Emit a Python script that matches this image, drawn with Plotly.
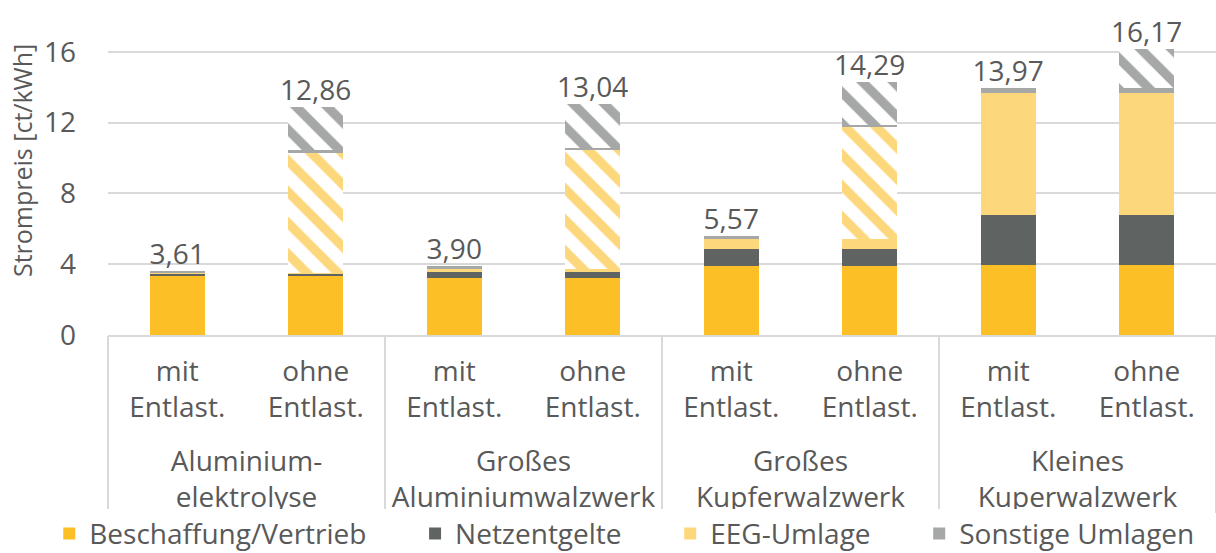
import plotly.graph_objects as go

groups = ["Aluminium-<br>elektrolyse", "Großes<br>Aluminiumwalzwerk",
          "Großes<br>Kupferwalzwerk", "Kleines<br>Kuperwalzwerk"]
variants = ["mit<br>Entlast.", "ohne<br>Entlast."]

beschaffung = [3.38, 3.38, 3.20, 3.20, 3.92, 3.92, 3.96, 3.96]
netzentgelte = [0.08, 0.08, 0.35, 0.35, 0.95, 0.95, 2.82, 2.82]
eeg = [0.05, 0.05, 0.20, 0.20, 0.57, 0.57, 6.88, 6.88]
eeg_ohne = [0, 6.83, 0, 6.68, 0, 6.31, 0, 0]
sonstige = [0.10, 0.10, 0.15, 0.15, 0.13, 0.13, 0.31, 0.31]
sonstige_ohne = [0, 2.42, 0, 2.46, 0, 2.41, 0, 2.20]
totals = [3.61, 12.86, 3.90, 13.04, 5.57, 14.29, 13.97, 16.17]

# unique category ids for the 8 bars; shown labels come from ticktext
bar_ids = [f"{gi}-{vi}" for gi in range(len(groups)) for vi in range(len(variants))]
bar_labels = [v for _ in groups for v in variants]

C_BESCH = "#FDBF26"
C_NETZ = "#5F6462"
C_EEG = "#FDD77C"
C_SONST = "#A6A8A7"
TXT = "#595959"
GRID = "#D9D9D9"
FONT = "Open Sans"
FS = 28
PAD = "\u00a0" * 6

fig = go.Figure()

def solid(name, vals, color, label):
    fig.add_trace(go.Bar(x=bar_ids, y=vals, name=label, legendgroup=name,
                         showlegend=True, marker=dict(color=color, line=dict(width=0))))

def hatched(name, vals, color):
    fig.add_trace(go.Bar(x=bar_ids, y=vals, name=name, legendgroup=name, showlegend=False,
                         marker=dict(color="white", line=dict(width=0),
                                     pattern=dict(shape="\\", fgcolor=color, bgcolor="white",
                                                  size=22, solidity=0.42, fillmode="replace"))))

solid("Beschaffung/Vertrieb", beschaffung, C_BESCH, "Beschaffung/Vertrieb" + PAD)
solid("Netzentgelte", netzentgelte, C_NETZ, "Netzentgelte" + PAD)
solid("EEG-Umlage", eeg, C_EEG, "EEG-Umlage" + PAD)
hatched("EEG-Umlage", eeg_ohne, C_EEG)
solid("Sonstige Umlagen", sonstige, C_SONST, "Sonstige Umlagen")
hatched("Sonstige Umlagen", sonstige_ohne, C_SONST)

fig.add_trace(go.Scatter(x=bar_ids, y=totals, mode="text",
                         text=[f"{t:.2f}".replace(".", ",") for t in totals],
                         textposition="top center", showlegend=False, cliponaxis=False,
                         textfont=dict(family=FONT, size=FS, color=TXT), hoverinfo="skip"))

# invisible trace that defines the group categories on the second x axis
fig.add_trace(go.Scatter(x=groups, y=[None] * len(groups), xaxis="x2", mode="markers",
                         showlegend=False, hoverinfo="skip"))

fig.add_annotation(text="Strompreis [ct/kWh]", textangle=-90, xref="paper", yref="paper",
                   x=-86 / 1108, y=(334.7 - 160) / 291.6, xanchor="center", yanchor="middle",
                   showarrow=False, font=dict(family=FONT, size=25, color=TXT))

fig.update_layout(
    width=1216, height=553,
    barmode="stack", bargap=0.6,
    plot_bgcolor="white", paper_bgcolor="white",
    font=dict(family=FONT, size=FS, color=TXT),
    margin=dict(l=108, r=0, t=43, b=218, autoexpand=False),
    legend=dict(orientation="h", x=-0.053, xanchor="left", y=-0.681, yanchor="middle",
                font=dict(family=FONT, size=FS, color=TXT), traceorder="normal",
                itemwidth=30, tracegroupgap=0),
    xaxis=dict(type="category", categoryorder="array", categoryarray=bar_ids,
               tickvals=bar_ids, ticktext=bar_labels, range=[-0.5, 7.5],
               showline=True, linecolor=GRID, linewidth=2, showgrid=False, ticks="",
               tickfont=dict(family=FONT, size=FS, color=TXT), ticklabelstandoff=10,
               automargin=False),
    xaxis2=dict(type="category", overlaying="x", anchor="y", side="bottom",
                categoryorder="array", categoryarray=groups, range=[-0.5, 3.5],
                tickson="boundaries", ticks="outside", ticklen=177, tickwidth=2,
                tickcolor=GRID, showgrid=False, showline=False, zeroline=False,
                tickfont=dict(family=FONT, size=FS, color=TXT), ticklabelstandoff=107,
                automargin=False),
    yaxis=dict(range=[0, 16.5], tickvals=[0, 4, 8, 12, 16], showgrid=True,
               gridcolor=GRID, gridwidth=2, zeroline=False, showline=False,
               tickfont=dict(family=FONT, size=FS, color=TXT), ticklabelstandoff=31,
               automargin=False),
)

fig.write_html("out.html", config={"displayModeBar": False},
               post_script="document.body.style.margin='0';")
